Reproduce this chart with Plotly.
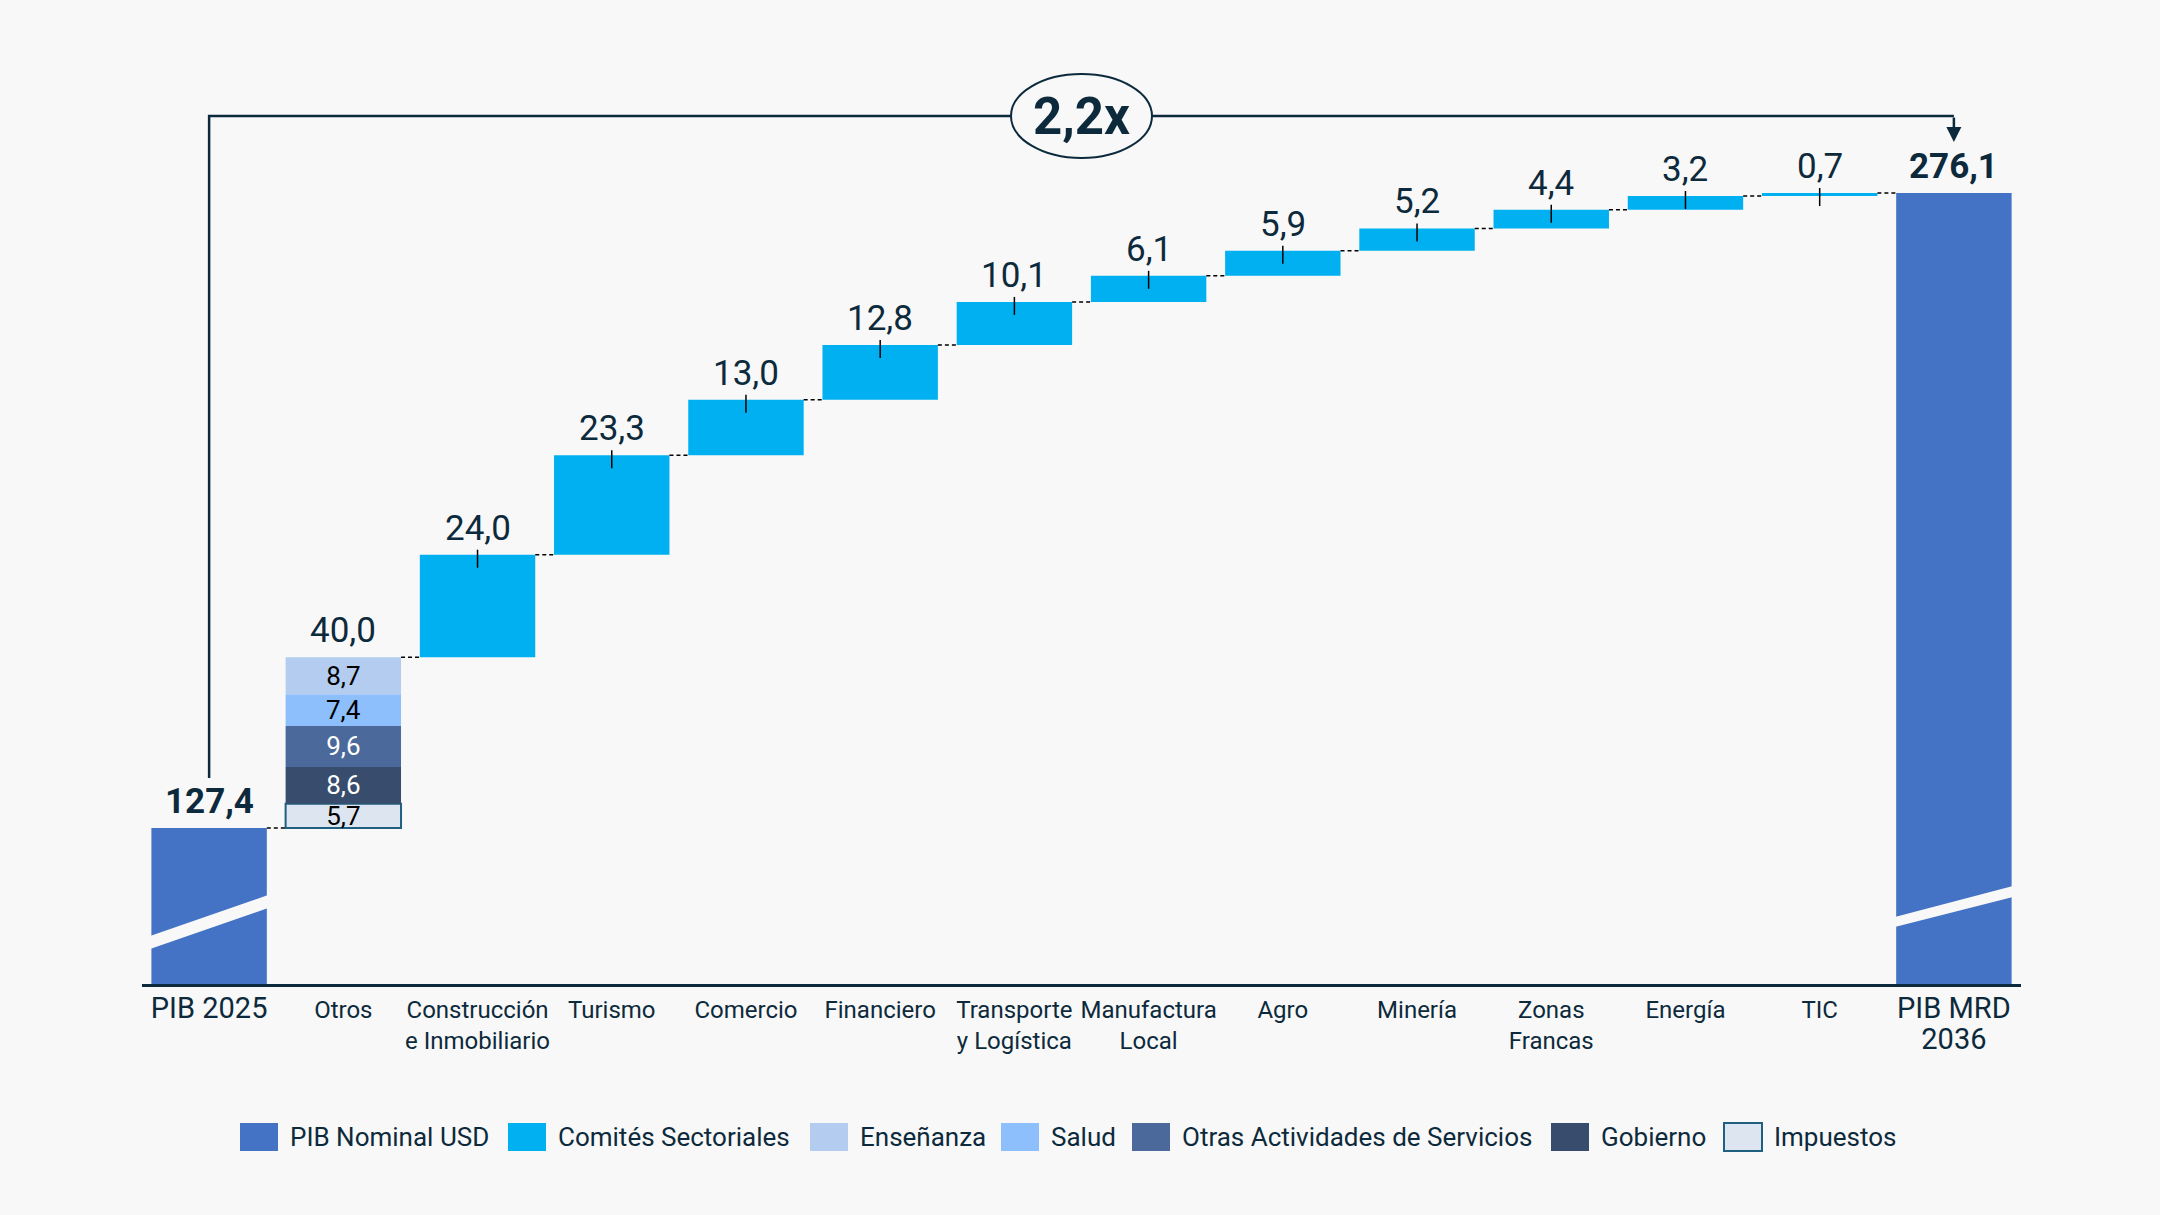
import plotly.graph_objects as go

# ---------------- data ----------------
categories = ["PIB 2025", "Otros", "Construcción<br>e Inmobiliario", "Turismo", "Comercio",
              "Financiero", "Transporte<br>y Logística", "Manufactura<br>Local", "Agro",
              "Minería", "Zonas<br>Francas", "Energía", "TIC", "PIB MRD<br>2036"]
pib_start = 127.4
pib_end = 276.1
otros_names = ["Impuestos", "Gobierno", "Otras Actividades de Servicios", "Salud", "Enseñanza"]
otros_values = [5.7, 8.6, 9.6, 7.4, 8.7]
sector_values = [24.0, 23.3, 13.0, 12.8, 10.1, 6.1, 5.9, 5.2, 4.4, 3.2, 0.7]

legend_names = ["PIB Nominal USD", "Comités Sectoriales", "Enseñanza", "Salud",
                "Otras Actividades de Servicios", "Gobierno", "Impuestos"]

# ---------------- style ----------------
BG = "#F8F8F8"
DARK = "#0D2A3C"
FONT = "Roboto"
C_PIB = "#4472C4"
C_SECT = "#00B0F0"
seg_colors = {"Impuestos": "#DDE5F0", "Gobierno": "#384D6E",
              "Otras Actividades de Servicios": "#4B6A9B", "Salud": "#8DBFFC",
              "Enseñanza": "#B3CCF0"}
seg_text = {"Impuestos": "#000000", "Gobierno": "#FFFFFF",
            "Otras Actividades de Servicios": "#FFFFFF", "Salud": "#000000",
            "Enseñanza": "#000000"}
legend_colors = [C_PIB, C_SECT, seg_colors["Enseñanza"], seg_colors["Salud"],
                 seg_colors["Otras Actividades de Servicios"], seg_colors["Gobierno"],
                 seg_colors["Impuestos"]]
legend_x_px = [240, 508, 810, 1001, 1132, 1551, 1724]

W, H = 2160, 1215
ML, MR, MT, MB = 142, 139, 0, 231
PW, PH = W - ML - MR, H - MT - MB
Y_MIN, Y_MAX = 90.87, 321.3
BW = 0.86
VAL_SIZE = 35


def fmt(v):
    return f"{v:.1f}".replace(".", ",")


n = len(categories)
x_idx = list(range(n))
otros_x = 1
sector_x = list(range(2, 2 + len(sector_values)))
last_x = n - 1

# running totals
otros_total = sum(otros_values)
tops = [pib_start, pib_start + otros_total]
for v in sector_values:
    tops.append(tops[-1] + v)
tops.append(pib_end)

fig = go.Figure()

# PIB bars
fig.add_trace(go.Bar(x=[0, last_x], y=[pib_start, pib_end], width=BW,
                     marker=dict(color=C_PIB, line=dict(width=0)),
                     name="PIB Nominal USD", showlegend=False, hoverinfo="skip"))

# Otros stack
base = pib_start
for name, v in zip(otros_names, otros_values):
    lw = 2 if name == "Impuestos" else 0
    fig.add_trace(go.Bar(x=[otros_x], y=[v], base=[base], width=BW,
                         marker=dict(color=seg_colors[name], line=dict(width=lw, color="#1F5F80")),
                         text=[fmt(v)], textposition="inside", insidetextanchor="middle",
                         constraintext="none",
                         textfont=dict(size=26, color=seg_text[name], family=FONT),
                         name=name, showlegend=False, hoverinfo="skip"))
    base += v

# sector bars
sector_base = tops[1:1 + len(sector_values)]
fig.add_trace(go.Bar(x=sector_x, y=sector_values, base=sector_base, width=BW,
                     marker=dict(color=C_SECT, line=dict(width=0)),
                     name="Comités Sectoriales", showlegend=False, hoverinfo="skip"))

# connectors
cx, cy = [], []
for i in range(n - 1):
    cx += [i + BW / 2, i + 1 - BW / 2, None]
    cy += [tops[i], tops[i], None]
fig.add_trace(go.Scatter(x=cx, y=cy, mode="lines",
                         line=dict(color="#000000", width=1.5, dash="4px,3px"),
                         showlegend=False, hoverinfo="skip"))

shapes = []
annotations = []

# axis-break slashes on PIB bars
breaks = {0: (99.07, 102.11, 108.67, 111.71), last_x: (104.22, 106.56, 111.24, 113.82)}
for xi, (lb, lt, rb, rt) in breaks.items():
    x0, x1 = xi - BW / 2 - 0.01, xi + BW / 2 + 0.01
    shapes.append(dict(type="path", xref="x", yref="y",
                       path=f"M {x0},{lb} L {x1},{rb} L {x1},{rt} L {x0},{lt} Z",
                       fillcolor=BG, line=dict(width=0), layer="above"))

# ticks + labels on sector bars
for xi, v, b in zip(sector_x, sector_values, sector_base):
    top = b + v
    shapes.append(dict(type="line", xref="x", yref="y", ysizemode="pixel", yanchor=top,
                       x0=xi, x1=xi, y0=-13, y1=5, line=dict(color="#000000", width=1.5)))
    annotations.append(dict(x=xi, y=top, xref="x", yref="y", text=fmt(v), showarrow=False,
                            yanchor="bottom", yshift=4,
                            font=dict(size=VAL_SIZE, color=DARK, family=FONT)))

# Otros total label
annotations.append(dict(x=otros_x, y=tops[1], xref="x", yref="y", text=fmt(otros_total),
                        showarrow=False, yanchor="bottom", yshift=4,
                        font=dict(size=VAL_SIZE, color=DARK, family=FONT)))
# PIB totals
for xi, v in [(0, pib_start), (last_x, pib_end)]:
    annotations.append(dict(x=xi, y=v, xref="x", yref="y", text=f"<b>{fmt(v)}</b>",
                            showarrow=False, yanchor="bottom", yshift=4,
                            font=dict(size=VAL_SIZE, color=DARK, family=FONT)))

# growth bracket
BR_Y = 294.13
shapes.append(dict(type="path", xref="x", yref="y",
                   path=f"M 0,139.11 L 0,{BR_Y} L {last_x},{BR_Y}",
                   line=dict(color=DARK, width=2.5)))
annotations.append(dict(x=last_x, y=288.04, ax=last_x, ay=BR_Y, xref="x", yref="y",
                        axref="x", ayref="y", text="", showarrow=True, arrowhead=2,
                        arrowsize=1.2, arrowwidth=2.5, arrowcolor=DARK, standoff=0))
mid_x = last_x / 2
shapes.append(dict(type="circle", xref="x", yref="y", xsizemode="pixel", ysizemode="pixel",
                   xanchor=mid_x, yanchor=BR_Y, x0=-70.5, x1=70.5, y0=-42, y1=42,
                   fillcolor=BG, line=dict(color=DARK, width=2)))
ratio = pib_end / pib_start
annotations.append(dict(x=mid_x, y=BR_Y, xref="x", yref="y",
                        text=f"<b>{fmt(ratio)}x</b>", showarrow=False,
                        font=dict(size=51, color=DARK, family=FONT)))

# manual legend
LEG_Y = 1137
for name, col, px in zip(legend_names, legend_colors, legend_x_px):
    x0 = (px - ML) / PW
    x1 = (px + 38 - ML) / PW
    y0 = (H - MB - (LEG_Y + 14)) / PH
    y1 = (H - MB - (LEG_Y - 14)) / PH
    lc = "#1F5F80" if name == "Impuestos" else col
    lwid = 2 if name == "Impuestos" else 0
    shapes.append(dict(type="rect", xref="paper", yref="paper", x0=x0, x1=x1, y0=y0, y1=y1,
                       fillcolor=col, line=dict(color=lc, width=lwid)))
    annotations.append(dict(x=(px + 48 - ML) / PW, y=(H - MB - LEG_Y) / PH,
                            xref="paper", yref="paper", text=name, showarrow=False,
                            xanchor="left", yanchor="middle",
                            font=dict(size=26, color=DARK, family=FONT)))

ticktext = []
for i, c in enumerate(categories):
    if i in (0, last_x):
        ticktext.append(f"<span style='font-size:29px'>{c}</span>")
    else:
        ticktext.append(c)

fig.update_layout(
    width=W, height=H,
    margin=dict(l=ML, r=MR, t=MT, b=MB),
    paper_bgcolor=BG, plot_bgcolor=BG,
    barmode="overlay",
    showlegend=False,
    font=dict(family=FONT, color=DARK),
    shapes=shapes, annotations=annotations,
    xaxis=dict(range=[-0.5, n - 0.5], tickvals=x_idx, ticktext=ticktext,
               showline=True, linecolor=DARK, linewidth=3, showgrid=False, zeroline=False,
               ticks="", ticklabelstandoff=2,
               tickfont=dict(size=24, color=DARK, family=FONT)),
    yaxis=dict(range=[Y_MIN, Y_MAX], visible=False, showgrid=False, zeroline=False),
)

fig.write_html("out.html",
               config={"displayModeBar": False},
               post_script="document.body.style.margin='0';"
                           "document.body.style.background='#F8F8F8';"
                           "document.body.style.overflow='hidden';")
